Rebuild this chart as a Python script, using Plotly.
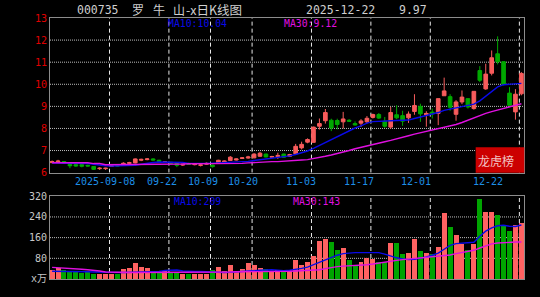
import plotly.graph_objects as go

# ---------------- data ----------------
opens = [6.45, 6.49, 6.50, 6.37, 6.36, 6.36, 6.33, 6.28, 6.18, 6.18,
         6.28, 6.33, 6.38, 6.42, 6.44, 6.56, 6.59, 6.62, 6.56, 6.47,
         6.47, 6.42, 6.34, 6.40, 6.36, 6.33, 6.38, 6.34, 6.42, 6.48,
         6.55, 6.57, 6.64, 6.66, 6.67, 6.74, 6.84, 6.70, 6.72, 6.84,
         6.74, 6.85, 7.12, 7.38, 7.37, 8.10, 8.35, 8.37, 8.36, 8.30,
         8.37, 8.22, 8.24, 8.30, 8.50, 8.63, 8.33, 8.06, 8.62, 8.58,
         8.48, 8.77, 9.00, 8.62, 8.74, 8.68, 9.48, 9.44, 8.64, 9.20,
         9.35, 8.90, 10.62, 9.79, 10.50, 11.38, 11.02, 9.60, 8.75, 9.57]
closes = [6.50, 6.52, 6.44, 6.31, 6.30, 6.29, 6.30, 6.15, 6.20, 6.20,
          6.31, 6.30, 6.42, 6.45, 6.62, 6.60, 6.62, 6.57, 6.51, 6.49,
          6.43, 6.33, 6.38, 6.37, 6.39, 6.35, 6.42, 6.27, 6.56, 6.52,
          6.70, 6.62, 6.67, 6.71, 6.84, 6.88, 6.71, 6.73, 6.78, 6.70,
          6.82, 7.19, 7.28, 7.50, 8.06, 8.22, 8.72, 8.02, 8.18, 8.43,
          8.33, 8.16, 8.34, 8.46, 8.63, 8.47, 8.10, 8.72, 8.48, 8.33,
          8.65, 9.04, 8.66, 8.68, 8.66, 9.35, 9.70, 8.96, 9.20, 9.42,
          8.97, 9.68, 10.18, 10.46, 11.20, 11.02, 10.00, 9.05, 9.55, 10.49]
highs = [6.55, 6.58, 6.52, 6.40, 6.38, 6.37, 6.36, 6.29, 6.24, 6.22,
         6.33, 6.35, 6.47, 6.49, 6.64, 6.63, 6.66, 6.65, 6.58, 6.51,
         6.48, 6.43, 6.40, 6.45, 6.42, 6.38, 6.46, 6.36, 6.58, 6.55,
         6.75, 6.64, 6.70, 6.76, 6.88, 6.94, 6.86, 6.76, 6.90, 6.86,
         6.85, 7.30, 7.40, 7.55, 8.08, 8.45, 8.88, 8.44, 8.44, 8.75,
         8.42, 8.32, 8.42, 8.56, 8.67, 8.70, 8.52, 8.98, 9.05, 8.80,
         8.77, 9.55, 9.12, 8.78, 8.90, 9.36, 10.30, 9.55, 9.28, 9.72,
         9.35, 9.68, 10.82, 10.93, 11.53, 12.17, 11.05, 9.87, 9.78, 10.55]
lows = [6.43, 6.46, 6.41, 6.20, 6.27, 6.24, 6.28, 6.12, 6.12, 6.12,
        6.26, 6.28, 6.35, 6.40, 6.42, 6.52, 6.56, 6.55, 6.49, 6.45,
        6.41, 6.25, 6.30, 6.35, 6.33, 6.28, 6.36, 6.23, 6.40, 6.46,
        6.53, 6.55, 6.62, 6.63, 6.65, 6.72, 6.69, 6.68, 6.62, 6.68,
        6.72, 6.80, 7.05, 7.33, 7.37, 7.95, 8.22, 7.88, 7.96, 8.00,
        8.30, 8.13, 8.07, 8.22, 8.45, 8.43, 8.03, 7.98, 8.42, 8.12,
        8.25, 8.62, 8.30, 8.08, 8.45, 8.15, 9.47, 8.80, 8.35, 9.10,
        8.90, 8.85, 10.10, 9.75, 10.40, 10.90, 9.95, 8.96, 8.40, 9.50]
volumes = [32, 40, 32, 29, 25, 23, 25, 20, 19, 19,
           19, 19, 38, 40, 61, 45, 40, 27, 27, 29,
           23, 23, 19, 19, 19, 19, 19, 32, 45, 29,
           52, 29, 36, 60, 55, 40, 38, 29, 32, 29,
           30, 74, 52, 66, 87, 147, 154, 144, 112, 117,
           72, 55, 64, 82, 78, 64, 64, 137, 139, 95,
           101, 154, 109, 101, 97, 121, 256, 201, 170, 135,
           113, 135, 310, 260, 260, 247, 208, 185, 208, 217]
ma10 = [6.43, 6.43, 6.43, 6.42, 6.42, 6.42, 6.41, 6.38, 6.33, 6.31,
        6.30, 6.30, 6.30, 6.31, 6.33, 6.38, 6.43, 6.46, 6.48, 6.48,
        6.48, 6.47, 6.46, 6.42, 6.41, 6.41, 6.42, 6.43, 6.44, 6.45,
        6.46, 6.47, 6.49, 6.51, 6.55, 6.58, 6.62, 6.65, 6.68, 6.71,
        6.76, 6.82, 6.90, 6.98, 7.10, 7.23, 7.38, 7.52, 7.65, 7.77,
        7.90, 8.02, 8.12, 8.24, 8.31, 8.33, 8.33, 8.35, 8.36, 8.37,
        8.38, 8.45, 8.52, 8.58, 8.63, 8.72, 8.82, 8.87, 8.92, 8.98,
        9.02, 9.10, 9.25, 9.45, 9.65, 9.88, 9.98, 10.00, 10.00, 10.04]
ma30 = [6.45, 6.45, 6.45, 6.45, 6.45, 6.45, 6.45, 6.41, 6.41, 6.36,
        6.36, 6.36, 6.36, 6.36, 6.36, 6.39, 6.39, 6.39, 6.39, 6.39,
        6.39, 6.39, 6.39, 6.40, 6.40, 6.40, 6.40, 6.40, 6.40, 6.40,
        6.40, 6.41, 6.42, 6.44, 6.46, 6.47, 6.49, 6.50, 6.50, 6.51,
        6.52, 6.54, 6.57, 6.59, 6.63, 6.68, 6.74, 6.80, 6.86, 6.93,
        7.00, 7.08, 7.15, 7.22, 7.28, 7.35, 7.40, 7.46, 7.52, 7.60,
        7.67, 7.74, 7.80, 7.87, 7.93, 7.98, 8.04, 8.10, 8.18, 8.27,
        8.38, 8.48, 8.58, 8.68, 8.76, 8.83, 8.92, 8.98, 9.05, 9.12]
vol_ma10 = [30, 30, 30, 29, 29, 29, 28, 27, 26, 25,
            25, 25, 25, 26, 27, 28, 28, 28, 29, 33,
            35, 35, 31, 29, 29, 29, 28, 26, 25, 25,
            26, 28, 29, 30, 32, 34, 35, 36, 34, 32,
            34, 37, 41, 46, 55, 65, 76, 84, 92, 98,
            101, 102, 102, 102, 102, 102, 96, 88, 82, 78,
            75, 76, 80, 85, 92, 100, 115, 130, 137, 139,
            140, 142, 165, 185, 198, 206, 208, 204, 203, 209]
vol_ma30 = [45, 44, 42, 42, 41, 38, 36, 34, 31, 27,
            26, 25, 25, 25, 25, 25, 25, 25, 25, 25,
            25, 25, 25, 25, 25, 26, 26, 26, 27, 27,
            27, 28, 28, 28, 28, 28, 29, 29, 29, 29,
            30, 31, 32, 33, 34, 36, 40, 45, 48, 50,
            51, 52, 54, 55, 58, 62, 65, 68, 72, 75,
            77, 79, 81, 83, 85, 87, 90, 93, 98, 102,
            107, 111, 120, 128, 136, 139, 141, 142, 143, 143]

tick_labels = ["2025-09-08", "09-22", "10-09", "10-20", "11-03", "11-17", "12-01", "12-22"]
tick_index = [10, 20, 27, 34, 44, 54, 64, 79]
price_ticks = [6, 7, 8, 9, 10, 11, 12, 13]
vol_ticks = [0, 80, 160, 240, 320]
vol_tick_text = ["x万", "80", "160", "240", "320"]

# ---------------- styling ----------------
W, H = 540, 297
ML, MR, MT, MB = 50, 16, 18, 14
PW, PH = W - ML - MR, H - MT - MB
RED = "#f85c5c"
GREEN = "#00a800"
VRED = "#ff6262"
VGREEN = "#00a400"
BLUE = "#0a0ae8"
MAG = "#e010e0"
BORDER = "#8c8c8c"
MONO = "DejaVu Sans Mono, Noto Sans CJK SC, monospace"
CJK = "Noto Sans CJK SC, DejaVu Sans, sans-serif"


def px_x(px):
    return (px - ML) / PW


def px_y(py):
    return (H - MB - py) / PH


idx = list(range(len(closes)))
vol_colors = [VRED if c >= o else VGREEN for o, c in zip(opens, closes)]
x_range = [-0.354, 79.44]
unit_px = PW / (x_range[1] - x_range[0])
# gridlines sit at the left edge of the dated candle, nudged to a pixel centre
grid_x = [t - 0.42 + 0.5 / unit_px for t in tick_index]

fig = go.Figure()
fig.add_trace(go.Candlestick(
    x=idx, open=opens, high=highs, low=lows, close=closes,
    increasing=dict(line=dict(color=RED, width=1), fillcolor=RED),
    decreasing=dict(line=dict(color=GREEN, width=1), fillcolor=GREEN),
    whiskerwidth=0, xaxis="x", yaxis="y", showlegend=False, hoverinfo="skip"))
fig.add_trace(go.Scatter(x=idx, y=ma10, mode="lines", line=dict(color=BLUE, width=1.4),
                         xaxis="x", yaxis="y", showlegend=False, hoverinfo="skip"))
fig.add_trace(go.Scatter(x=idx, y=ma30, mode="lines", line=dict(color=MAG, width=1.4),
                         xaxis="x", yaxis="y", showlegend=False, hoverinfo="skip"))
fig.add_trace(go.Bar(x=idx, y=volumes, marker=dict(color=vol_colors, line=dict(width=0)),
                     width=0.84, xaxis="x2", yaxis="y2", showlegend=False, hoverinfo="skip"))
fig.add_trace(go.Scatter(x=idx, y=vol_ma10, mode="lines", line=dict(color=BLUE, width=1.4),
                         xaxis="x2", yaxis="y2", showlegend=False, hoverinfo="skip"))
fig.add_trace(go.Scatter(x=idx, y=vol_ma30, mode="lines", line=dict(color=MAG, width=1.4),
                         xaxis="x2", yaxis="y2", showlegend=False, hoverinfo="skip"))

xcommon = dict(range=x_range, tickmode="array", tickvals=grid_x, showticklabels=False,
               showgrid=False, showline=True, mirror=True, linecolor=BORDER, linewidth=1,
               zeroline=False, ticks="", fixedrange=True)
ycommon = dict(showgrid=False, showline=True, mirror=True, linecolor=BORDER, linewidth=1,
               zeroline=False, ticks="", tickmode="array", fixedrange=True)

fig.update_layout(
    width=W, height=H,
    margin=dict(l=ML, r=MR, t=MT, b=MB),
    paper_bgcolor="black", plot_bgcolor="black",
    bargap=0, boxgap=0.12,
    xaxis=dict(domain=[0, 1], anchor="y", rangeslider=dict(visible=False), **xcommon),
    xaxis2=dict(domain=[0, 1], anchor="y2", matches="x", **xcommon),
    yaxis=dict(domain=[px_y(175), 1], range=[6, 13], tickvals=price_ticks,
               ticktext=[str(v) for v in price_ticks],
               tickfont=dict(family=MONO, size=10, color="#e00000"), **ycommon),
    yaxis2=dict(domain=[0, px_y(199)], range=[0, 320], tickvals=vol_ticks, ticktext=vol_tick_text,
                tickfont=dict(family=MONO, size=10, color="#c8c8c8"), **ycommon),
)

shapes = []
# vertical dashed gridlines in both panels
for gx in grid_x:
    for yref in ("y", "y2"):
        y0, y1 = (6, 13) if yref == "y" else (0, 320)
        shapes.append(dict(type="line", xref="x", yref=yref, x0=gx, x1=gx, y0=y0, y1=y1,
                           line=dict(color="#e8e8e8", width=1, dash="4px,3px"), layer="below"))
# horizontal dotted gridlines
for v in price_ticks[1:-1]:
    shapes.append(dict(type="line", xref="paper", yref="y", x0=0, x1=1, y0=v, y1=v,
                       line=dict(color="#bdbdbd", width=1, dash="1px,1px"), layer="below"))
for v in vol_ticks[1:-1]:
    shapes.append(dict(type="line", xref="paper", yref="y2", x0=0, x1=1, y0=v, y1=v,
                       line=dict(color="#bdbdbd", width=1, dash="1px,1px"), layer="below"))
shapes.append(dict(type="rect", xref="paper", yref="paper", x0=px_x(475.7), x1=px_x(524.3),
                   y0=px_y(175), y1=px_y(149.3), fillcolor="#cc0000", line=dict(width=0),
                   layer="above"))

ann = []
# x-axis date labels
label_px = [105, 162, 203, 243, 301, 358.5, 415.5, 487.5]
for lab, p in zip(tick_labels, label_px):
    ann.append(dict(x=px_x(p), y=px_y(184.3), xref="paper", yref="paper", text=lab,
                    showarrow=False, xanchor="center", yanchor="middle",
                    font=dict(family=MONO, size=10, color="#1e8fe6")))

# title parts
TITLE_C = "#cfcfcf"
for txt, p, fam, sz in [("000735", 75, MONO, 11.5), ("罗", 130, CJK, 12), ("牛", 151, CJK, 12),
                        ("山", 171, CJK, 12), ("-x日K线图", 184, CJK, 12.5),
                        ("2025-12-22", 304, MONO, 11.5), ("9.97", 397, MONO, 11.5)]:
    ann.append(dict(x=px_x(p), y=px_y(9.5), xref="paper", yref="paper", text=txt,
                    showarrow=False, xanchor="left", yanchor="middle",
                    font=dict(family=fam, size=sz, color=TITLE_C)))

# MA labels
for txt, p, py, col in [("MA10:10.04", 166, 23.5, BLUE), ("MA30:9.12", 282, 23.5, MAG),
                        ("MA10:209", 172, 204, BLUE), ("MA30:143", 291, 204, MAG)]:
    ann.append(dict(x=px_x(p), y=px_y(py), xref="paper", yref="paper", text=txt,
                    showarrow=False, xanchor="left", yanchor="middle",
                    font=dict(family=MONO, size=9.8, color=col)))

# 龙虎榜 badge
ann.append(dict(x=px_x(476), y=px_y(163), xref="paper", yref="paper", text="龙虎榜",
                showarrow=False, xanchor="left", yanchor="middle",
                font=dict(family=CJK, size=12, color="#f2c4c4")))

fig.update_layout(annotations=ann, shapes=shapes)

fig.write_html("out.html", config={"displayModeBar": False})
